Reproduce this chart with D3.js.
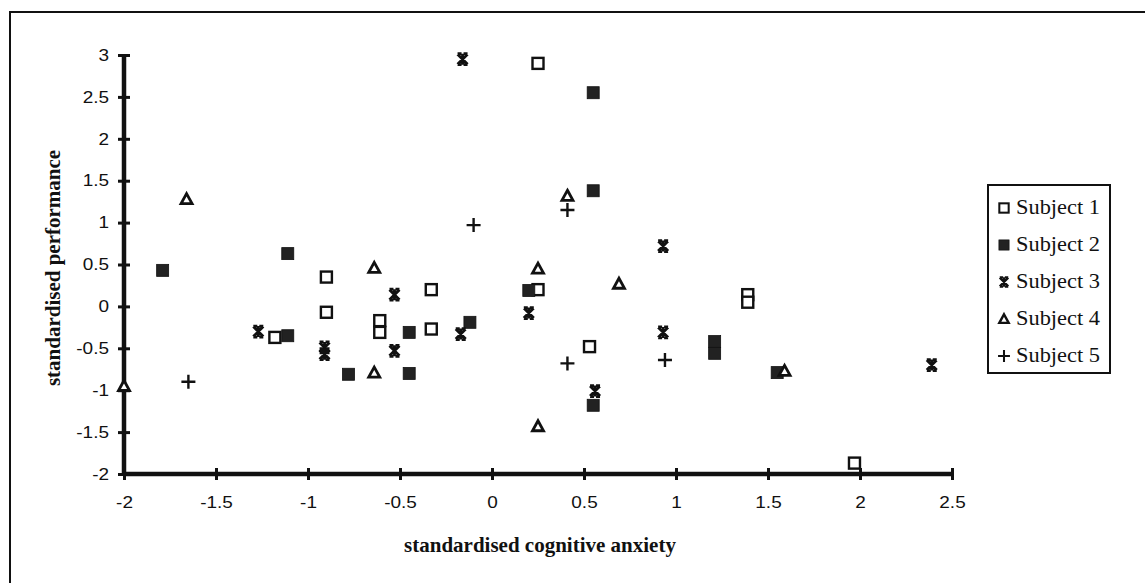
<!DOCTYPE html>
<html>
<head>
<meta charset="utf-8">
<script src="https://cdn.jsdelivr.net/npm/d3@7"></script>
<style>
  html, body { margin: 0; padding: 0; background: #fff; }
  svg { display: block; }
  .wide { transform-box: fill-box; transform-origin: center; transform: scaleX(1.15); }
  .wide-end { transform-box: fill-box; transform-origin: right center; transform: scaleX(1.15); }
  .wide-start { transform-box: fill-box; transform-origin: left center; transform: scaleX(1.12); }
</style>
</head>
<body>
<svg id="chart" width="1145" height="583"></svg>
<script>
// Standardised cognitive anxiety (x) vs standardised performance (y), per subject
const subject1 = [[0.25,2.9],[-0.9,0.35],[-0.33,0.2],[-0.9,-0.07],[-0.61,-0.17],[-0.61,-0.31],
  [-0.33,-0.27],[-1.18,-0.37],[0.25,0.2],[0.53,-0.48],[1.39,0.14],[1.39,0.05],[1.97,-1.87]];
const subject2 = [[0.55,2.55],[0.55,1.38],[-1.11,0.63],[-1.79,0.43],[-0.45,-0.31],[-1.11,-0.35],
  [-0.78,-0.81],[-0.45,-0.8],[-0.12,-0.19],[0.2,0.19],[1.21,-0.42],[1.21,-0.56],[0.55,-1.18],[1.55,-0.79]];
const subject3 = [[-0.16,2.95],[0.93,0.72],[-0.53,0.14],[-1.27,-0.3],[-0.91,-0.49],[-0.91,-0.57],
  [-0.53,-0.53],[-0.17,-0.33],[0.2,-0.08],[0.93,-0.31],[0.56,-1.01],[2.39,-0.7]];
const subject4 = [[-1.66,1.28],[0.41,1.32],[-0.64,0.46],[-0.64,-0.79],[-2,-0.95],[0.25,0.45],
  [0.69,0.27],[0.25,-1.43],[1.59,-0.77]];
const subject5 = [[0.41,1.15],[-0.1,0.97],[-1.65,-0.9],[0.94,-0.64],[0.41,-0.68]];

const seriesNames = ["Subject 1","Subject 2","Subject 3","Subject 4","Subject 5"];
const seriesData = [subject1, subject2, subject3, subject4, subject5];
const markerKinds = ["openSquare","filledSquare","star","triangle","plus"];

const xTicks = [-2,-1.5,-1,-0.5,0,0.5,1,1.5,2,2.5];
const yTicks = [-2,-1.5,-1,-0.5,0,0.5,1,1.5,2,2.5,3];

const svg = d3.select("#chart");
const ink = "#111";
const sans = "'Liberation Sans', Arial, sans-serif";
const serif = "'Liberation Serif', 'Times New Roman', serif";

// outer frame (runs off the right and bottom edges)
svg.append("rect").attr("x",10).attr("y",12).attr("width",1160).attr("height",600)
  .attr("fill","none").attr("stroke",ink).attr("stroke-width",2);

const x = d3.scaleLinear().domain([-2,2.5]).range([124,952]);
const y = d3.scaleLinear().domain([-2,3]).range([474,55]);

const fmt = d => String(d);

// x axis
const gx = svg.append("g").attr("transform",`translate(0,${y(-2)})`)
  .call(d3.axisBottom(x).tickValues(xTicks).tickFormat(fmt).tickSize(6).tickPadding(0));
gx.select(".domain").attr("stroke",ink).attr("stroke-width",4.5).attr("d",`M${x(-2)},0H${x(2.5)}`);
gx.selectAll(".tick line").attr("stroke",ink).attr("stroke-width",3).attr("y1",-6).attr("y2",6);
gx.selectAll(".tick text").attr("fill",ink).attr("y",28).attr("dy","0.35em").attr("class","wide")
  .style("font-family",sans).style("font-size","16.5px");

// y axis
const gy = svg.append("g").attr("transform",`translate(${x(-2)},0)`)
  .call(d3.axisLeft(y).tickValues(yTicks).tickFormat(fmt).tickSize(6).tickPadding(0));
gy.select(".domain").attr("stroke",ink).attr("stroke-width",4.5).attr("d",`M0,${y(3)}V${y(-2)}`);
gy.selectAll(".tick line").attr("stroke",ink).attr("stroke-width",3).attr("x1",-6).attr("x2",6);
gy.selectAll(".tick text").attr("fill",ink).attr("x",-15).attr("class","wide-end")
  .style("font-family",sans).style("font-size","16.5px");

// axis titles
svg.append("text").attr("x",540).attr("y",552).attr("text-anchor","middle")
  .style("font-family",serif).style("font-weight","bold")
  .style("font-size","21px").attr("fill",ink).text("standardised cognitive anxiety");
svg.append("text").attr("transform","translate(60,268) rotate(-90)").attr("text-anchor","middle")
  .style("font-family",serif).style("font-weight","bold")
  .style("font-size","21px").attr("fill",ink).text("standardised performance");

// marker drawing
function drawMarker(g, kind) {
  switch (kind) {
    case "openSquare":
      g.append("rect").attr("x",-5.5).attr("y",-5.5).attr("width",11).attr("height",11)
        .attr("fill","#fff").attr("stroke",ink).attr("stroke-width",2.4);
      break;
    case "filledSquare":
      g.append("rect").attr("x",-6).attr("y",-6).attr("width",12).attr("height",12)
        .attr("fill","#222").attr("stroke","#111").attr("stroke-width",0.8);
      break;
    case "star":
      g.append("path").attr("d","M-5,-5L5,5M5,-5L-5,5M0,-5.5V5.5M-5,-5.5H-1M1,-5.5H5M-5,5.5H-1M1,5.5H5")
        .attr("fill","none").attr("stroke",ink).attr("stroke-width",2.8);
      break;
    case "triangle":
      g.append("path").attr("d","M0,-5.5L5.5,4.5H-5.5Z")
        .attr("fill","#fff").attr("stroke",ink).attr("stroke-width",2.8).attr("stroke-linejoin","miter");
      break;
    case "plus":
      g.append("path").attr("d","M-7,0H7M0,-7V7")
        .attr("fill","none").attr("stroke",ink).attr("stroke-width",2.4);
      break;
  }
}

// points
seriesData.forEach((data, i) => {
  svg.append("g").attr("class","series")
    .selectAll("g").data(data).join("g")
    .attr("transform", d => `translate(${x(d[0])},${y(d[1])})`)
    .each(function() { drawMarker(d3.select(this), markerKinds[i]); });
});

// legend
const legend = svg.append("g");
legend.append("rect").attr("x",988).attr("y",185).attr("width",122).attr("height",188)
  .attr("fill","#fff").attr("stroke",ink).attr("stroke-width",2);
const rowY = d3.scalePoint().domain(seriesNames).range([207,355]);
seriesNames.forEach((name, i) => {
  const row = legend.append("g").attr("transform",`translate(0,${rowY(name)})`);
  const m = row.append("g").attr("transform","translate(1004,1) scale(0.85)");
  drawMarker(m, markerKinds[i]);
  row.append("text").attr("x",1016).attr("y",0).attr("dy","0.35em").attr("class","wide-start")
    .style("font-family",serif)
    .style("font-size","20px").attr("fill",ink).text(name);
});
</script>
</body>
</html>
